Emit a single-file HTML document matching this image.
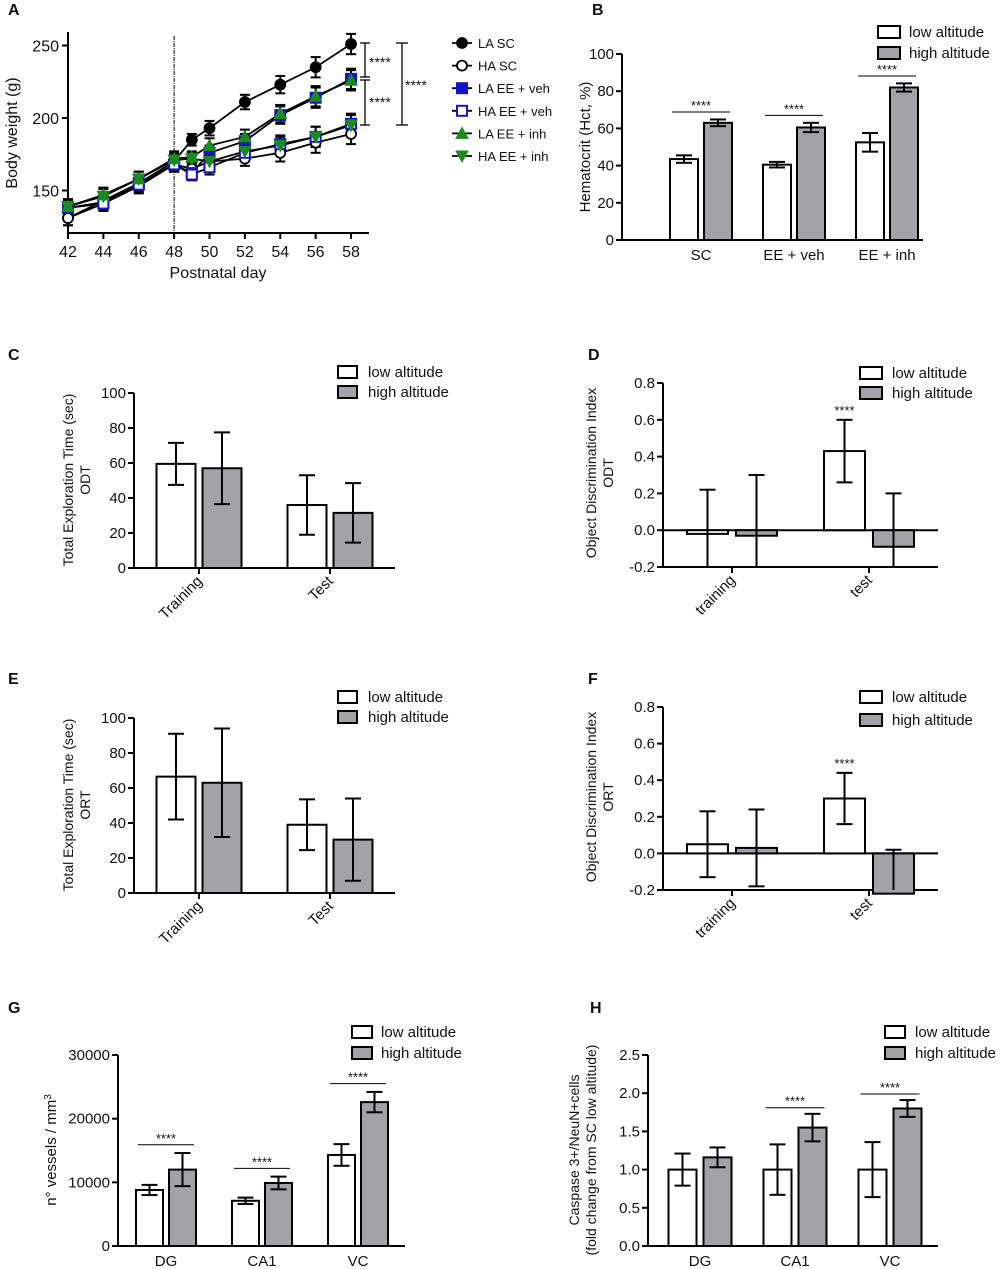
<!DOCTYPE html>
<html><head><meta charset="utf-8"><style>
html,body{margin:0;padding:0;background:#fff;}
svg{display:block;font-family:"Liberation Sans",Arial,sans-serif;}
</style></head><body>
<svg id="fig" width="1000" height="1269" viewBox="0 0 1000 1269" xmlns="http://www.w3.org/2000/svg"></svg>
<script>
// ---------- Panel A data ----------
const aDays = [42,44,46,48,49,50,52,54,56,58];
const aLegend = ["LA SC","HA SC","LA EE + veh","HA EE + veh","LA EE + inh","HA EE + inh"];
const aLASC   = [131,143,155,170,185,193,211,223,235,251];
const aHASC   = [131,141,153,168,165,170,172,176,183,189];
const aLAveh  = [138,142,155,168,162,176,184,202,214,227];
const aHAveh  = [138,141,154,168,161,166,176,182,187,196];
const aLAinh  = [139,147,158,172,173,181,187,203,215,226];
const aHAinh  = [139,146,158,171,172,170,177,181,187,195];
const aErr    = [5,5,5,5,4,5,5,6,7,7];
const aYTicks = [150,200,250];
const aXTicks = [42,44,46,48,50,52,54,56,58];

// ---------- Panel B ----------
const bCats = ["SC","EE + veh","EE + inh"];
const bLow = [43.5,40.5,52.5];
const bLowErr = [2,1.5,5];
const bHigh = [63,60.5,82];
const bHighErr = [1.8,2.5,2.2];
const bTicks = [0,20,40,60,80,100];
// ---------- Panel C ----------
const cCats = ["Training","Test"];
const cLow = [59.5,36];
const cLowErr = [12,17];
const cHigh = [57,31.5];
const cHighErr = [20.5,17];
const cTicks = [0,20,40,60,80,100];
// ---------- Panel D ----------
const dCats = ["training","test"];
const dLow = [-0.02,0.43];
const dLowErr = [0.24,0.17];
const dHigh = [-0.03,-0.09];
const dHighErr = [0.33,0.29];
const dTicks = [-0.2,0.0,0.2,0.4,0.6,0.8];
// ---------- Panel E ----------
const eCats = ["Training","Test"];
const eLow = [66.5,39];
const eLowErr = [24.5,14.5];
const eHigh = [63,30.5];
const eHighErr = [31,23.5];
const eTicks = [0,20,40,60,80,100];
// ---------- Panel F ----------
const fCats = ["training","test"];
const fLow = [0.05,0.30];
const fLowErr = [0.18,0.14];
const fHigh = [0.03,-0.22];
const fHighErr = [0.21,0.24];
const fTicks = [-0.2,0.0,0.2,0.4,0.6,0.8];
// ---------- Panel G ----------
const gCats = ["DG","CA1","VC"];
const gLow = [8800,7100,14300];
const gLowErr = [800,500,1700];
const gHigh = [12000,9900,22600];
const gHighErr = [2600,1000,1600];
const gTicks = [0,10000,20000,30000];
// ---------- Panel H ----------
const hCats = ["DG","CA1","VC"];
const hLow = [1.0,1.0,1.0];
const hLowErr = [0.21,0.33,0.36];
const hHigh = [1.16,1.55,1.80];
const hHighErr = [0.13,0.18,0.11];
const hTicks = [0,0.5,1.0,1.5,2.0,2.5];

const NS = "http://www.w3.org/2000/svg";
const svg = document.getElementById("fig");
function mk(tag, attrs, name, parent){
  const e = document.createElementNS(NS, tag);
  for (const k in attrs) e.setAttribute(k, attrs[k]);
  
  
  (parent||svg).appendChild(e);
  return e;
}
function txt(x,y,s,size,name,extra){
  const a = Object.assign({x:x,y:y,'font-size':size,fill:'#111'}, extra||{});
  const t = mk('text', a, name);
  t.textContent = s;
  return t;
}
function line(x1,y1,x2,y2,w,name,extra){
  return mk('line', Object.assign({x1:x1,y1:y1,x2:x2,y2:y2,stroke:'#000','stroke-width':w}, extra||{}), name);
}
function letter(x,y,s){ txt(x,y,s,16,'panel-label-'+s.toLowerCase(),{'font-weight':'bold'}); }

// ---------- Draw panel A ----------
(function(){
  const x0=68, xr=369, yb=233, yt=32;
  const X = d => x0 + (d-42)*17.69;
  const Y = v => 118 - (v-200)*1.45;
  line(x0,yt,x0,yb,2,'a-y-axis');
  line(x0-1,yb,xr,yb,2,'a-x-axis');
  aYTicks.forEach(t=>{ line(x0-6,Y(t),x0,Y(t),2,'a-y-tick'); txt(x0-9,Y(t)+6,String(t),16,'a-y-tick-label',{'text-anchor':'end'}); });
  aXTicks.forEach(t=>{ line(X(t),yb,X(t),yb+6,2,'a-x-tick'); txt(X(t),yb+24,String(t),16,'a-x-tick-label',{'text-anchor':'middle'}); });
  txt(218,278,'Postnatal day',16,'a-x-axis-title',{'text-anchor':'middle'});
  txt(0,0,'Body weight (g)',16,'a-y-axis-title',{'text-anchor':'middle',transform:'translate(17,133) rotate(-90)'});
  line(X(48),36,X(48),yb,1,'a-treatment-line',{'stroke-dasharray':'4,1,1,1'});
  const series=[
    {d:aLASC, m:'circle', fill:'#000', stroke:'#000'},
    {d:aHASC, m:'circle', fill:'#fff', stroke:'#000'},
    {d:aLAveh, m:'square', fill:'#1515c8', stroke:'#1515c8'},
    {d:aHAveh, m:'square', fill:'#fff', stroke:'#1515c8'},
    {d:aLAinh, m:'tri', fill:'#1d8a1d', stroke:'#1d8a1d'},
    {d:aHAinh, m:'itri', fill:'#1d8a1d', stroke:'#1d8a1d'}];
  function marker(m,x,y,f,s,name){
    if(m==='circle') mk('circle',{cx:x,cy:y,r:5,fill:f,stroke:s,'stroke-width':1.8},name);
    else if(m==='square') mk('rect',{x:x-5,y:y-5,width:10,height:10,fill:f,stroke:s,'stroke-width':2},name);
    else if(m==='tri') mk('polygon',{points:`${x},${y-6} ${x-6},${y+5} ${x+6},${y+5}`,fill:f,stroke:s},name);
    else mk('polygon',{points:`${x},${y+6} ${x-6},${y-5} ${x+6},${y-5}`,fill:f,stroke:s},name);
  }
  series.forEach((s,i)=>{
    s.d.forEach((v,j)=>{
      const x=X(aDays[j]), e=aErr[j];
      line(x,Y(v-e),x,Y(v+e),2,'a-error-bar');
      line(x-5,Y(v-e),x+5,Y(v-e),2,'a-error-cap');
      line(x-5,Y(v+e),x+5,Y(v+e),2,'a-error-cap');
    });
    const pts=s.d.map((v,j)=>X(aDays[j])+','+Y(v)).join(' ');
    mk('polyline',{points:pts,fill:'none',stroke:'#000','stroke-width':1.8},'a-line-'+i);
  });
  series.forEach((s,i)=>{ s.d.forEach((v,j)=>marker(s.m,X(aDays[j]),Y(v),s.fill,s.stroke,'a-point')); });
  line(365,43,365,77,1.3,'a-sig-bracket'); line(360,43,370,43,1.3,'a-sig-cap'); line(360,77,370,77,1.3,'a-sig-cap');
  line(365,80,365,125,1.3,'a-sig-bracket'); line(360,80,370,80,1.3,'a-sig-cap'); line(360,125,370,125,1.3,'a-sig-cap');
  line(402,43,402,125,1.3,'a-sig-bracket'); line(396,43,408,43,1.3,'a-sig-cap'); line(396,125,408,125,1.3,'a-sig-cap');
  txt(369,67,'****',14,'a-sig-stars'); txt(369,107,'****',14,'a-sig-stars'); txt(405,90,'****',14,'a-sig-stars');
  series.forEach((s,i)=>{
    const y=43+i*22.6;
    line(452,y,472,y,1.8,'a-legend-line');
    marker(s.m,462,y,s.fill,s.stroke,'a-legend-marker');
    txt(478,y+5,aLegend[i],13,'a-legend-entry');
  });
})();

// ---------- Generic bar panel ----------
function barPanel(p){
  const Y = v => p.yBot - (v-p.vMin)/(p.vMax-p.vMin)*(p.yBot-p.yTop);
  const clampV = v => Math.max(p.vMin, Math.min(p.vMax, v));
  line(p.ax,p.yTop,p.ax,p.yBot,2,p.id+'-y-axis');
  line(p.ax-1,p.yBot,p.right,p.yBot,2,p.id+'-x-axis');
  if(p.vMin<0) line(p.ax,Y(0),p.right,Y(0),2,p.id+'-zero-line');
  p.ticks.forEach(t=>{ line(p.ax-6,Y(t),p.ax,Y(t),2,p.id+'-y-tick');
    txt(p.ax-8,Y(t)+5,p.fmt(t),15,p.id+'-y-tick-label',{'text-anchor':'end'}); });
  p.cats.forEach((c,i)=>{
    const cx=p.centers[i];
    [[p.low[i],p.lowErr[i],cx-p.gap/2-p.bw,'#fff','low'],[p.high[i],p.highErr[i],cx+p.gap/2,'#a3a3a7','high']].forEach(b=>{
      const [v,e,x,f,k]=b;
      const y1=Y(Math.max(v,0)), y2=Y(Math.min(v,0));
      mk('rect',{x:x,y:Math.min(y1,y2),width:p.bw,height:Math.abs(y2-y1),fill:f,stroke:'#000','stroke-width':2},p.id+'-bar-'+k+'-'+c);
      const bx=x+p.bw/2, top=v+e, bot=v-e;
      line(bx,Y(clampV(top)),bx,Y(clampV(bot)),2,p.id+'-error-bar');
      if(top<=p.vMax) line(bx-p.cap/2,Y(top),bx+p.cap/2,Y(top),2,p.id+'-error-cap');
      if(bot>=p.vMin) line(bx-p.cap/2,Y(bot),bx+p.cap/2,Y(bot),2,p.id+'-error-cap');
    });
    if(p.tickMarks) line(cx,p.yBot,cx,p.yBot+6,2,p.id+'-x-tick');
    if(p.rot){
      txt(0,0,c,15,p.id+'-x-tick-label',{'text-anchor':'end',transform:`translate(${cx+4},${p.yBot+14}) rotate(-45)`});
    } else {
      txt(cx,p.yBot+20,c,15,p.id+'-x-tick-label',{'text-anchor':'middle'});
    }
  });
  (p.sigPair||[]).forEach(i=>{
    const cx=p.centers[i];
    const v=p.high[i]+p.highErr[i]+p.sigOff;
    line(cx-p.gap/2-p.bw+2,Y(v),cx+p.gap/2+p.bw-2,Y(v),1,p.id+'-sig-line');
    txt(cx,Y(v)-2,'****',13,p.id+'-sig-stars',{'text-anchor':'middle'});
  });
  (p.sigLow||[]).forEach(i=>{
    const cx=p.centers[i]-p.gap/2-p.bw/2;
    txt(cx,Y(p.low[i]+p.lowErr[i])-5,'****',13,p.id+'-sig-stars',{'text-anchor':'middle'});
  });
  const L=p.leg;
  mk('rect',{x:L.x,y:L.y1-6,width:L.w,height:12,fill:'#fff',stroke:'#000','stroke-width':2},p.id+'-legend-swatch-low');
  mk('rect',{x:L.x,y:L.y2-6,width:L.w,height:12,fill:'#a3a3a7',stroke:'#000','stroke-width':2},p.id+'-legend-swatch-high');
  txt(L.tx,L.y1+5,'low altitude',15,p.id+'-legend-entry-low');
  txt(L.tx,L.y2+5,'high altitude',15,p.id+'-legend-entry-high');
  p.title.forEach((t,k)=>{
    const tt=txt(0,0,t.s,t.size||14,p.id+'-y-axis-title',{'text-anchor':'middle',transform:`translate(${t.x},${p.titleY}) rotate(-90)`});
    if(t.sup){ const ts=document.createElementNS(NS,'tspan'); ts.setAttribute('baseline-shift','super'); ts.setAttribute('font-size','10'); ts.textContent=t.sup; tt.appendChild(ts); }
  });
}
const f0 = t=>String(t), f1 = t=>t.toFixed(1);

barPanel({id:'b',ax:622,right:923,yTop:54,yBot:240,vMin:0,vMax:100,ticks:bTicks,fmt:f0,cats:bCats,centers:[701,794,887],bw:28,gap:6,cap:16,
  low:bLow,lowErr:bLowErr,high:bHigh,highErr:bHighErr,sigPair:[0,1,2],sigOff:4,
  leg:{x:878,w:22,y1:32,y2:53,tx:909},title:[{s:'Hematocrit (Hct, %)',x:590,size:15}],titleY:147});
barPanel({id:'c',ax:134,right:395,yTop:393,yBot:568,vMin:0,vMax:100,ticks:cTicks,fmt:f0,cats:cCats,centers:[199,330],bw:39,gap:7,cap:16,tickMarks:true,rot:true,
  low:cLow,lowErr:cLowErr,high:cHigh,highErr:cHighErr,
  leg:{x:338,w:19,y1:372,y2:392,tx:368},title:[{s:'Total Exploration Time (sec)',x:73},{s:'ODT',x:90}],titleY:480});
barPanel({id:'d',ax:663,right:938,yTop:383,yBot:567,vMin:-0.2,vMax:0.8,ticks:dTicks,fmt:f1,cats:dCats,centers:[732,869],bw:41,gap:8,cap:16,tickMarks:true,rot:true,
  low:dLow,lowErr:dLowErr,high:dHigh,highErr:dHighErr,sigLow:[1],
  leg:{x:860,w:22,y1:373,y2:393,tx:892},title:[{s:'Object Discrimination Index',x:596},{s:'ODT',x:613}],titleY:473});
barPanel({id:'e',ax:134,right:395,yTop:718,yBot:893,vMin:0,vMax:100,ticks:eTicks,fmt:f0,cats:eCats,centers:[199,330],bw:39,gap:7,cap:16,tickMarks:true,rot:true,
  low:eLow,lowErr:eLowErr,high:eHigh,highErr:eHighErr,
  leg:{x:338,w:19,y1:697,y2:717,tx:368},title:[{s:'Total Exploration Time (sec)',x:73},{s:'ORT',x:90}],titleY:805});
barPanel({id:'f',ax:663,right:938,yTop:707,yBot:890,vMin:-0.2,vMax:0.8,ticks:fTicks,fmt:f1,cats:fCats,centers:[732,869],bw:41,gap:8,cap:16,tickMarks:true,rot:true,
  low:fLow,lowErr:fLowErr,high:fHigh,highErr:fHighErr,sigLow:[1],
  leg:{x:860,w:22,y1:697,y2:720,tx:892},title:[{s:'Object Discrimination Index',x:596},{s:'ORT',x:613}],titleY:797});
barPanel({id:'g',ax:118,right:405,yTop:1055,yBot:1246,vMin:0,vMax:30000,ticks:gTicks,fmt:f0,cats:gCats,centers:[166,262,358],bw:27,gap:6,cap:16,
  low:gLow,lowErr:gLowErr,high:gHigh,highErr:gHighErr,sigPair:[0,1,2],sigOff:1300,
  leg:{x:352,w:20,y1:1032,y2:1053,tx:381},title:[{s:'n° vessels / mm',sup:'3',x:56,size:15}],titleY:1150});
barPanel({id:'h',ax:648,right:938,yTop:1055,yBot:1246,vMin:0,vMax:2.5,ticks:hTicks,fmt:f1,cats:hCats,centers:[700,795,890],bw:28,gap:7,cap:16,
  low:hLow,lowErr:hLowErr,high:hHigh,highErr:hHighErr,sigPair:[1,2],sigOff:0.08,
  leg:{x:885,w:20,y1:1032,y2:1053,tx:915},title:[{s:'Caspase 3+/NeuN+cells',x:579},{s:'(fold change from SC low altitude)',x:596}],titleY:1150});

letter(8,15,'A'); letter(592,15,'B'); letter(8,360,'C'); letter(588,360,'D');
letter(8,684,'E'); letter(588,684,'F'); letter(8,1013,'G'); letter(590,1013,'H');
</script>
</body></html>
